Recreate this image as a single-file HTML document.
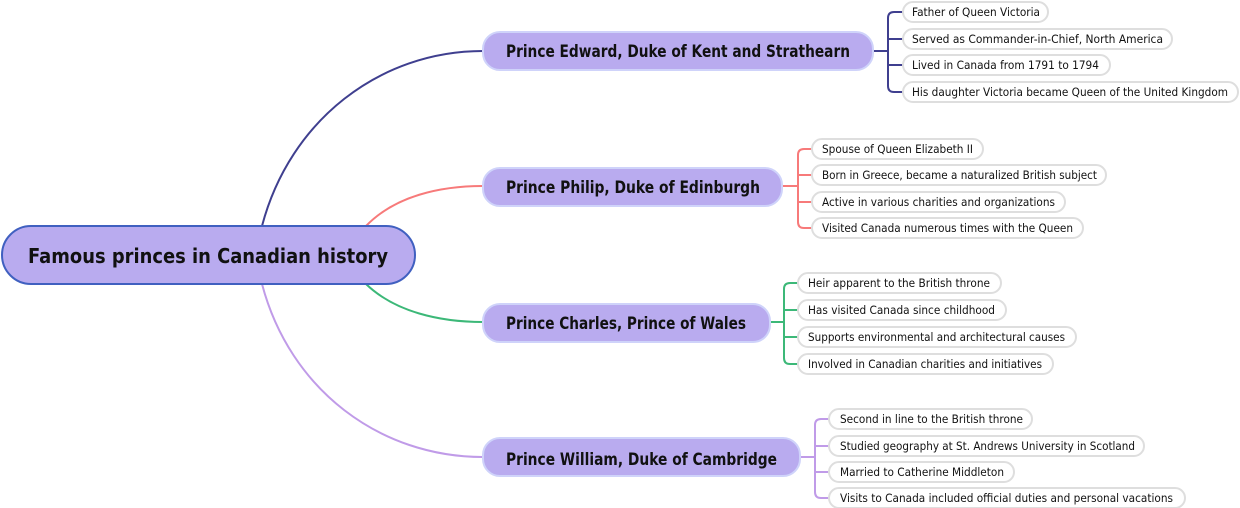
<!DOCTYPE html>
<html><head><meta charset="utf-8"><style>
html,body{margin:0;padding:0;background:#fff;}
svg{display:block;font-family:"DejaVu Sans","Liberation Sans",sans-serif;}
.leaf rect{fill:#fff;stroke:#dedede;stroke-width:2;}
.leaf text{font-size:11.5px;fill:#111;}
.mid rect{fill:#b9abef;stroke:#cfd3fa;stroke-width:2;}
.mid text{font-size:16.5px;font-weight:bold;fill:#111;}
</style></head><body>
<svg width="1240" height="508" viewBox="0 0 1240 508">
<g fill="none" stroke-width="2">
<path d="M262,226 C290,120 380,51 483,51" stroke="#3f3f8f"/>
<path d="M366,226 C395,196 440,186 483,186" stroke="#f77a7a"/>
<path d="M366,284 C395,312 440,322 483,322" stroke="#3cb878"/>
<path d="M262,284 C290,390 380,457 483,457" stroke="#c09be8"/>
<path d="M873,51 H888 M904,12 H894 Q888,12 888,18 V86 Q888,92 894,92 H904 M888,39 H904 M888,65 H904" stroke="#3f3f8f"/>
<path d="M782,186 H798 M812,149 H804 Q798,149 798,155 V222 Q798,228 804,228 H812 M798,175 H812 M798,202 H812" stroke="#f77a7a"/>
<path d="M770,322 H784 M798,283 H790 Q784,283 784,289 V358 Q784,364 790,364 H798 M784,310 H798 M784,337 H798" stroke="#3cb878"/>
<path d="M800,457 H815 M829,419 H821 Q815,419 815,425 V492 Q815,498 821,498 H829 M815,446 H829 M815,472 H829" stroke="#c09be8"/>
</g>
<rect x="2" y="226" width="413" height="58" rx="29" fill="#b9abef" stroke="#4060c0" stroke-width="2"/>
<text x="208" y="263" text-anchor="middle" font-size="20.5" font-weight="bold" fill="#111" textLength="360" lengthAdjust="spacingAndGlyphs">Famous princes in Canadian history</text>
<g class="mid">
<rect x="483" y="32" width="390" height="38" rx="17"/><text x="506" y="57" textLength="344" lengthAdjust="spacingAndGlyphs">Prince Edward, Duke of Kent and Strathearn</text>
<rect x="483" y="168" width="299" height="38" rx="17"/><text x="506" y="193" textLength="254" lengthAdjust="spacingAndGlyphs">Prince Philip, Duke of Edinburgh</text>
<rect x="483" y="304" width="287" height="38" rx="17"/><text x="506" y="329" textLength="240" lengthAdjust="spacingAndGlyphs">Prince Charles, Prince of Wales</text>
<rect x="483" y="438" width="317" height="38" rx="17"/><text x="506" y="465" textLength="271" lengthAdjust="spacingAndGlyphs">Prince William, Duke of Cambridge</text>
</g>
<g class="leaf">
<rect x="903" y="2" width="145" height="20" rx="10"/><text x="912" y="16" textLength="128" lengthAdjust="spacingAndGlyphs">Father of Queen Victoria</text>
<rect x="903" y="29" width="269" height="20" rx="10"/><text x="912" y="43" textLength="251" lengthAdjust="spacingAndGlyphs">Served as Commander-in-Chief, North America</text>
<rect x="903" y="55" width="207" height="20" rx="10"/><text x="912" y="69" textLength="187" lengthAdjust="spacingAndGlyphs">Lived in Canada from 1791 to 1794</text>
<rect x="903" y="82" width="335" height="20" rx="10"/><text x="912" y="96" textLength="316" lengthAdjust="spacingAndGlyphs">His daughter Victoria became Queen of the United Kingdom</text>
<rect x="812" y="139" width="171" height="20" rx="10"/><text x="822" y="153" textLength="151" lengthAdjust="spacingAndGlyphs">Spouse of Queen Elizabeth II</text>
<rect x="812" y="165" width="294" height="20" rx="10"/><text x="822" y="179" textLength="275" lengthAdjust="spacingAndGlyphs">Born in Greece, became a naturalized British subject</text>
<rect x="812" y="192" width="253" height="20" rx="10"/><text x="822" y="206" textLength="233" lengthAdjust="spacingAndGlyphs">Active in various charities and organizations</text>
<rect x="812" y="218" width="271" height="20" rx="10"/><text x="822" y="232" textLength="251" lengthAdjust="spacingAndGlyphs">Visited Canada numerous times with the Queen</text>
<rect x="798" y="273" width="203" height="20" rx="10"/><text x="808" y="287" textLength="182" lengthAdjust="spacingAndGlyphs">Heir apparent to the British throne</text>
<rect x="798" y="300" width="208" height="20" rx="10"/><text x="808" y="314" textLength="187" lengthAdjust="spacingAndGlyphs">Has visited Canada since childhood</text>
<rect x="798" y="327" width="278" height="20" rx="10"/><text x="808" y="341" textLength="257" lengthAdjust="spacingAndGlyphs">Supports environmental and architectural causes</text>
<rect x="798" y="354" width="255" height="20" rx="10"/><text x="808" y="368" textLength="234" lengthAdjust="spacingAndGlyphs">Involved in Canadian charities and initiatives</text>
<rect x="829" y="409" width="203" height="20" rx="10"/><text x="840" y="423" textLength="183" lengthAdjust="spacingAndGlyphs">Second in line to the British throne</text>
<rect x="829" y="436" width="315" height="20" rx="10"/><text x="840" y="450" textLength="295" lengthAdjust="spacingAndGlyphs">Studied geography at St. Andrews University in Scotland</text>
<rect x="829" y="462" width="185" height="20" rx="10"/><text x="840" y="476" textLength="164" lengthAdjust="spacingAndGlyphs">Married to Catherine Middleton</text>
<rect x="829" y="488" width="356" height="20" rx="10"/><text x="840" y="502" textLength="333" lengthAdjust="spacingAndGlyphs">Visits to Canada included official duties and personal vacations</text>
</g>
</svg>
</body></html>
